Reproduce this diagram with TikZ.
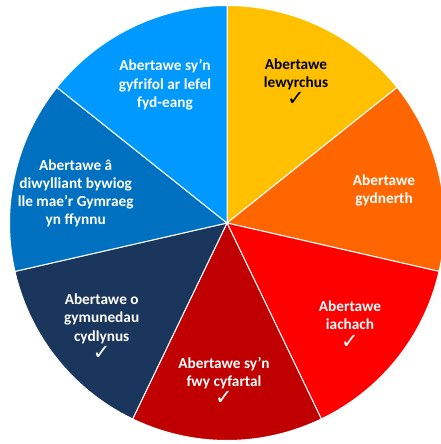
\documentclass[tikz,border=0pt]{standalone}
\usepackage{fontspec}
\setmainfont{Carlito}
\newfontfamily\checkfont{DejaVu Sans}
\definecolor{cYellow}{HTML}{FFC000}
\definecolor{cOrange}{HTML}{FF6600}
\definecolor{cRed}{HTML}{FF0000}
\definecolor{cDarkRed}{HTML}{C00000}
\definecolor{cNavy}{HTML}{1B365D}
\definecolor{cMidBlue}{HTML}{0070C0}
\definecolor{cLightBlue}{HTML}{0099FF}
\newcommand{\tick}{{\checkfont\fontsize{21}{18.3}\selectfont ✓}}
\begin{document}
\begin{tikzpicture}[x=1pt,y=1pt,
  sector/.style={draw=white,line width=1pt,line join=round},
  lbl/.style={align=center,inner sep=0pt,font=\bfseries\fontsize{15.3}{18.3}\selectfont,text=white}]
\useasboundingbox[fill=white] (-227,-221) rectangle (214,223);
\def\R{217.5}
\coordinate (c) at (0,0);
\foreach \a/\col in {90/cYellow,38.5714/cOrange,-12.8571/cRed,-64.2857/cDarkRed,-115.7143/cNavy,-167.1429/cMidBlue,-218.5714/cLightBlue}{
  \pgfmathsetmacro{\b}{\a-51.4286}
  \filldraw[sector,fill=\col] (c) -- (\a:\R) arc[start angle=\a,end angle=\b,radius=\R] -- cycle;
}
\node[lbl,text=black] (yellow) at (69,141) {Abertawe\\lewyrchus\\\tick};
\node[lbl] (orange) at (157,32.8) {Abertawe\\gydnerth};
\node[lbl] (red) at (123,-101.5) {Abertawe\\iachach\\\tick};
\node[lbl] (darkred) at (-3,-158) {Abertawe sy’n\\fwy cyfartal\\\tick};
\node[lbl] (navy) at (-125.3,-103.5) {Abertawe o\\gymunedau\\cydlynus\\\tick};
\node[lbl] (midblue) at (-151.3,29.7) {Abertawe â\\diwylliant bywiog\\lle mae’r Gymraeg\\yn ffynnu};
\node[lbl] (lightblue) at (-62,138.2) {Abertawe sy’n\\gyfrifol ar lefel\\fyd-eang};
\end{tikzpicture}
\end{document}
